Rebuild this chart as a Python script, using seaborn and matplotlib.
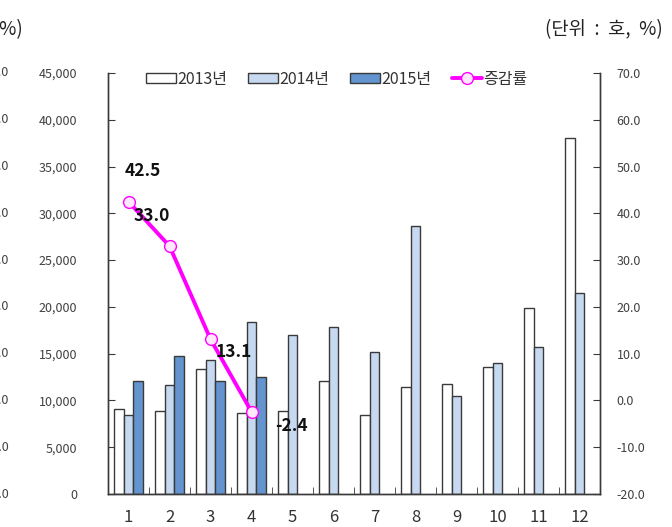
import numpy as np
import pandas as pd
import seaborn as sns
import matplotlib.pyplot as plt
from matplotlib.ticker import FuncFormatter, MultipleLocator, FixedLocator
import matplotlib.transforms as mtransforms

# data
months = [str(m) for m in range(1, 13)]
years = ['2013년', '2014년', '2015년']
v2013 = [9050, 8850, 13330, 8630, 8850, 12050, 8420, 11410, 11730, 13540, 19830, 38060]
v2014 = [8420, 11620, 14280, 18340, 16950, 17800, 15140, 28680, 10450, 13960, 15670, 21530]
v2015 = [12050, 14710, 12050, 12470, np.nan, np.nan, np.nan, np.nan, np.nan, np.nan, np.nan, np.nan]
rate = [42.5, 33.0, 13.1, -2.4]
rate_name = '증감률'
unit_text = '(단위  :  호,  %)'

clrs = {'2013년': '#FFFFFF', '2014년': '#C6D9F0', '2015년': '#6394CF'}
label_offsets = [(10, 22), (-13, 22), (17, -9), (29, -10)]

df = pd.DataFrame({
    'month': months * 3,
    'year': np.repeat(years, len(months)),
    'value': v2013 + v2014 + v2015,
})

sns.set_style('ticks')
plt.rcParams['font.family'] = ['Noto Sans CJK KR', 'DejaVu Sans']
plt.rcParams['axes.unicode_minus'] = False
tick_clr = '#404040'

fig = plt.figure(figsize=(6.72, 5.27), dpi=100)
ax = fig.add_axes([108 / 672, 1 - 494 / 527, 492 / 672, 421 / 527])

sns.barplot(data=df, x='month', y='value', hue='year', order=months, hue_order=years,
            palette=clrs, saturation=1, edgecolor='#3a3a3a', linewidth=1.0, width=0.7, ax=ax)
bar_handles, bar_labels = ax.get_legend_handles_labels()
ax.get_legend().remove()

ax.set_xlim(-0.5, 11.5)
ax.set_ylim(0, 45000)
ax.yaxis.set_major_locator(MultipleLocator(5000))
ax.yaxis.set_major_formatter(FuncFormatter(lambda v, p: f'{v:,.0f}'))
ax.set_xlabel('')
ax.set_ylabel('')
ax.xaxis.set_minor_locator(FixedLocator(np.arange(0.5, 11, 1)))
ax.tick_params(axis='x', which='major', length=0, pad=11, labelsize=12, labelcolor='#333333')
ax.tick_params(axis='x', which='minor', length=5, direction='in', color='#3a3a3a')
ax.tick_params(axis='y', length=5, direction='in', pad=22, labelsize=9, labelcolor=tick_clr,
               color='#3a3a3a')

ax2 = ax.twinx()
xs = list(range(len(rate)))
sns.lineplot(x=xs, y=rate, ax=ax2, color='#FF00FF', linewidth=2.8, marker='o',
             markersize=8.5, markerfacecolor='#FFE8FF', markeredgecolor='#FF00FF',
             markeredgewidth=1.0, label=rate_name)
ax2.set_ylim(-20, 70)
ax2.yaxis.set_major_locator(MultipleLocator(10))
ax2.yaxis.set_major_formatter(FuncFormatter(lambda v, p: f'{v:.1f}'))
ax2.tick_params(axis='y', length=5, direction='in', pad=12, labelsize=9,
                labelcolor=tick_clr, color='#3a3a3a')

for i, (r, off) in enumerate(zip(rate, label_offsets)):
    ax2.annotate(f'{r:.1f}', (i, r), xytext=off, textcoords='offset points',
                 ha='center', va='center', fontsize=12.5, fontweight='bold', color='#111111')

for a in (ax, ax2):
    a.spines['top'].set_visible(False)
    for s in ('left', 'right', 'bottom'):
        a.spines[s].set_color('#3a3a3a')
        a.spines[s].set_linewidth(1.0)

line_handles, line_labels = ax2.get_legend_handles_labels()
ax2.legend(bar_handles + line_handles, bar_labels + line_labels, loc='upper center',
           bbox_to_anchor=(0.465, 1.04), ncol=4, frameon=False, fontsize=11.5,
           handlelength=1.9, handleheight=0.6, handletextpad=0.1, columnspacing=1.25,
           labelcolor='#333333')

# unit text on top right, and its mirrored remnant from the neighbour chart at the left edge
fig.text(663 / 672, 1 - 30 / 527, unit_text, ha='right', va='center', fontsize=13.5, color='#222222')
fig.text(23 / 672, 1 - 30 / 527, unit_text, ha='right', va='center', fontsize=13.5, color='#222222')
trans = mtransforms.blended_transform_factory(fig.transFigure, ax2.transData)
for v in np.arange(70, -21, -10):
    fig.text(9 / 672, v, f'{v:.1f}', transform=trans, ha='right', va='center',
             fontsize=9, color=tick_clr)

fig.savefig('out.png', dpi=100)
